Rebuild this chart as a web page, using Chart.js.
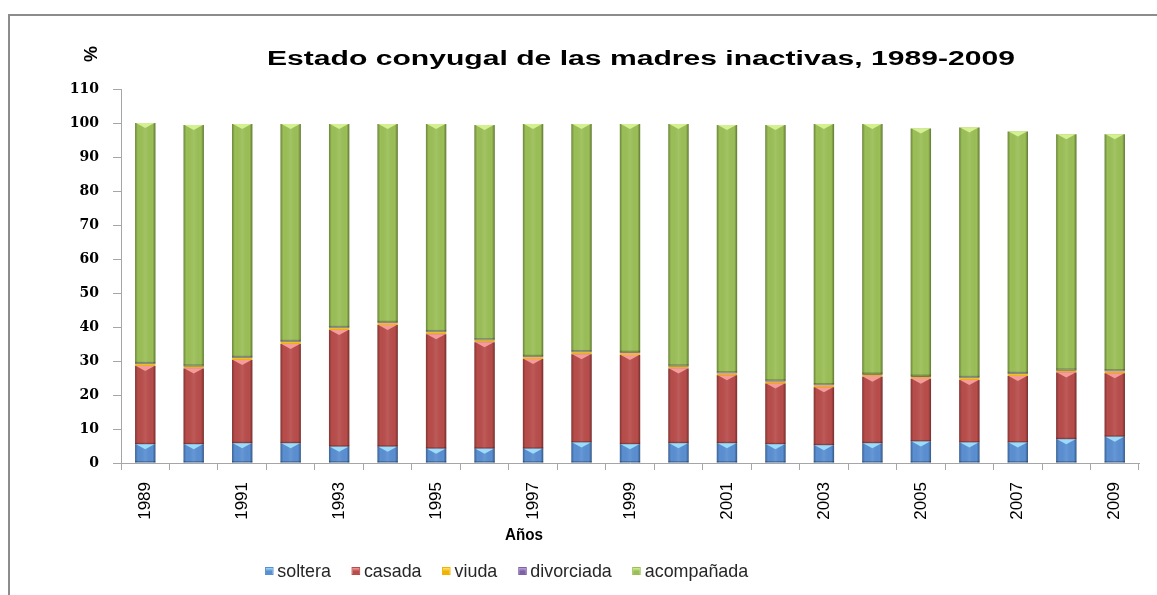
<!DOCTYPE html>
<html><head><meta charset="utf-8">
<script src="https://cdn.jsdelivr.net/npm/chart.js@4.4.1/dist/chart.umd.min.js"></script>
<style>
html,body{margin:0;padding:0;background:#fff;}
#wrap{position:relative;width:1157px;height:595px;overflow:hidden;background:#fff;}
#frame{position:absolute;left:8px;top:14px;width:1300px;height:800px;border:2px solid #8c8c8c;box-sizing:border-box;}
canvas{position:absolute;left:0;top:0;}
.t{position:absolute;white-space:nowrap;transform-origin:0 0;line-height:1;font-family:"Liberation Sans",Arial,sans-serif;color:#000;}
#legend{display:flex;align-items:center;color:#262626;}
#legend .it{display:flex;align-items:center;margin-right:22px;}
#legend .it:last-child{margin-right:0;}
#legend .bx{width:9px;height:8px;margin-right:4px;box-sizing:border-box;}
</style></head>
<body><div id="wrap"><div id="frame"></div><canvas id="c" width="1157" height="595"></canvas>
<div id="title" class="t" style="font-weight:bold;font-size:20px;">Estado conyugal de las madres inactivas, 1989-2009</div>
<div id="pct" class="t" style="font-weight:bold;font-size:18px;">%</div>
<div id="xt" class="t" style="font-weight:bold;font-size:16px;">Años</div>
<div id="legend" class="t" style="font-size:19px;"></div>
</div>
<script>
const years = ['1989','1990','1991','1992','1993','1994','1995','1996','1997','1998','1999','2000','2001','2002','2003','2004','2005','2006','2007','2008','2009'];
const seriesNames = ['soltera','casada','viuda','divorciada','acompañada'];
const soltera    = [5.5,5.5,5.8,5.8,4.8,4.8,4.2,4.2,4.2,6.0,5.5,5.8,5.8,5.5,5.2,5.8,6.3,6.0,6.0,7.0,7.7];
const casada     = [23.0,22.3,24.5,29.2,34.3,35.8,33.7,31.3,26.4,26.0,26.3,22.0,20.0,17.9,17.1,19.6,18.5,18.4,19.6,19.6,18.7];
const viuda      = [0.5,0.5,0.5,0.5,0.5,0.5,0.5,0.5,0.5,0.5,0.5,0.5,0.5,0.5,0.5,0.5,0.5,0.5,0.5,0.5,0.5];
const divorciada = [0.3,0.3,0.3,0.3,0.3,0.3,0.3,0.3,0.3,0.3,0.3,0.3,0.3,0.3,0.3,0.3,0.3,0.3,0.3,0.3,0.3];
const acompanada = [70.7,70.8,68.6,63.9,59.8,58.3,61.0,63.1,68.3,66.9,67.1,71.1,72.8,75.2,76.6,73.5,72.8,73.5,71.1,69.3,69.5];
const yTicks = [0,10,20,30,40,50,60,70,80,90,100,110];

const baseColors  = ['#5A8FD2','#B84D4B','#F0B400','#7F62A6','#9BBF57'];
const lightColors = ['#9ADCFA','#F59C9B','#FFE27A','#BBA4DC','#D4F090'];
const values = [soltera, casada, viuda, divorciada, acompanada];

const bevel = {
  id:'bevel',
  afterDatasetsDraw(chart){
    const c = chart.ctx;
    chart.data.datasets.forEach((ds, di) => {
      const meta = chart.getDatasetMeta(di);
      meta.data.forEach(el => {
        const p = el.getProps(['x','y','base','width'], true);
        const left = p.x - p.width/2, right = p.x + p.width/2;
        const top = Math.min(p.y, p.base), h = Math.abs(p.base - p.y);
        if (h < 2) return;
        c.save();
        const g = c.createLinearGradient(left, 0, right, 0);
        g.addColorStop(0, 'rgba(0,0,0,0.30)');
        g.addColorStop(0.14, 'rgba(0,0,0,0.0)');
        g.addColorStop(0.5, 'rgba(255,255,255,0.08)');
        g.addColorStop(0.86, 'rgba(0,0,0,0.0)');
        g.addColorStop(1, 'rgba(0,0,0,0.38)');
        c.fillStyle = g;
        c.fillRect(left, top, p.width, h);
        const th = Math.min(5, h/2);
        c.beginPath();
        c.moveTo(left+1, top);
        c.lineTo(right-1, top);
        c.lineTo(p.x, top+th);
        c.closePath();
        c.fillStyle = lightColors[di];
        c.fill();
        c.fillStyle = 'rgba(0,0,0,0.22)';
        c.fillRect(left, top+h-1.5, p.width, 1.5);
        c.restore();
      });
    });
  }
};

const chart = new Chart(document.getElementById('c'), {
  type:'bar',
  data:{
    labels: years,
    datasets: seriesNames.map((n,i)=>({
      label:n, data:values[i], backgroundColor:baseColors[i], borderWidth:0,
      barPercentage:0.42, categoryPercentage:1.0
    }))
  },
  options:{
    responsive:false, animation:false, devicePixelRatio:1,
    layout:{padding:{left:0,right:18,top:89,bottom:0}},
    plugins:{legend:{display:false}, title:{display:false}, tooltip:{enabled:false}},
    scales:{
      x:{
        stacked:true,
        grid:{display:true, drawOnChartArea:false, offset:true, tickLength:7, color:'#a6a6a6'},
        border:{display:true, color:'#a6a6a6'},
        ticks:{autoSkip:false, maxRotation:90, minRotation:90, padding:12, color:'#000',
          font:{family:'"Liberation Sans"', size:17},
          callback:function(v,i){ return i%2===0 ? this.getLabelForValue(v) : ''; }},
        afterFit:s=>{ s.height = 132; }
      },
      y:{
        stacked:true, min:0, max:110,
        afterBuildTicks:s=>{ s.ticks = yTicks.map(v=>({value:v})); },
        ticks:{padding:14, color:'#000', font:{family:'"DejaVu Serif"', weight:'bold', size:14}},
        grid:{display:true, drawOnChartArea:false, tickLength:8, color:'#a6a6a6'},
        border:{display:true, color:'#a6a6a6'},
        afterFit:s=>{ s.width = 121; }
      }
    }
  },
  plugins:[bevel]
});

// legend
const lg = document.getElementById('legend');
seriesNames.forEach((n,i)=>{
  const it = document.createElement('div'); it.className='it';
  const b = document.createElement('div'); b.className='bx';
  b.style.background = `linear-gradient(180deg, ${lightColors[i]} 0%, ${baseColors[i]} 55%)`;
  b.style.border = '1px solid ' + baseColors[i];
  const s = document.createElement('span'); s.textContent = n;
  it.appendChild(b); it.appendChild(s); lg.appendChild(it);
});

function fit(id, left, top, width){
  const el = document.getElementById(id);
  el.style.left = left+'px'; el.style.top = top+'px';
  const w = el.offsetWidth;
  el.style.transform = `scaleX(${width/w})`;
}
fit('title', 267, 48, 748);
fit('xt', 505, 527, 38);
fit('legend', 265, 561, 483);
const pct = document.getElementById('pct');
pct.style.left = (91 - pct.offsetWidth/2)+'px';
pct.style.top = (53.5 - 9)+'px';
pct.style.transformOrigin = 'center center';
pct.style.transform = 'rotate(-90deg)';
</script>
</body></html>
